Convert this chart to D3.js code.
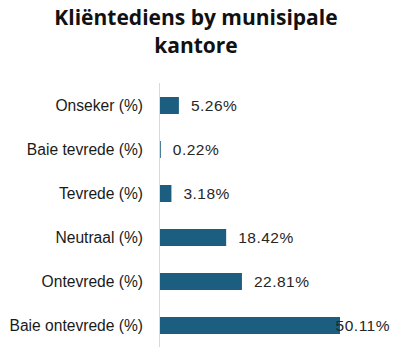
<!DOCTYPE html>
<html><head><meta charset="utf-8">
<script src="https://cdn.jsdelivr.net/npm/d3@7"></script>
<style>body{margin:0;background:#fff;} svg{display:block;}</style>
</head><body>
<svg id="c" width="394" height="355"></svg>
<script>
const categories = ["Onseker (%)", "Baie tevrede (%)", "Tevrede (%)", "Neutraal (%)", "Ontevrede (%)", "Baie ontevrede (%)"];
const values = [5.26, 0.22, 3.18, 18.42, 22.81, 50.11];
const titleLines = ["Kliëntediens by munisipale", "kantore"];

const svg = d3.select("#c");
const font = "'Liberation Sans', Arial, sans-serif";
const x0 = 160, xMaxPx = 340;
const x = d3.scaleLinear().domain([0, 50.11]).range([x0, xMaxPx]);
const y = d3.scaleBand().domain(categories).range([83.5, 347.5]).paddingInner(0.614).paddingOuter(0.307);

svg.append("g").selectAll("text").data(titleLines).join("text")
  .attr("x", 196).attr("y", (d,i)=>25+i*28)
  .attr("text-anchor","middle")
  .style("font-family","'Open Sans', sans-serif").style("font-weight","700")
  .style("font-size","21px").attr("fill","#111")
  .text(d=>d);

svg.append("line").attr("x1",x0-0.5).attr("x2",x0-0.5).attr("y1",83).attr("y2",347)
  .attr("stroke","#d9d9d9").attr("stroke-width",1);

const yAxis = d3.axisLeft(y).tickSize(0).tickPadding(17);
const ga = svg.append("g").attr("transform",`translate(${x0},0)`).call(yAxis);
ga.select(".domain").remove();
ga.selectAll("text").style("font-family",font).style("font-size","15.6px").attr("fill","#1a1a1a");

svg.append("g").selectAll("rect").data(values).join("rect")
  .attr("x", x0).attr("y",(d,i)=>y(categories[i]))
  .attr("width", d=>x(d)-x0).attr("height", y.bandwidth())
  .attr("fill","#1b5e7f");

const lbl = svg.append("g").selectAll("text").data(values).join("text")
  .attr("y",(d,i)=>y(categories[i])+y.bandwidth()/2)
  .attr("dy","0.35em")
  .style("font-family",font).style("font-size","15.5px").style("letter-spacing","0.5px").attr("fill","#262626")
  .text(d=>d.toFixed(2)+"%");
lbl.each(function(d){
  const w = this.getComputedTextLength();
  d3.select(this).attr("x", Math.min(x(d)+12, 390-w));
});
</script>
</body></html>
